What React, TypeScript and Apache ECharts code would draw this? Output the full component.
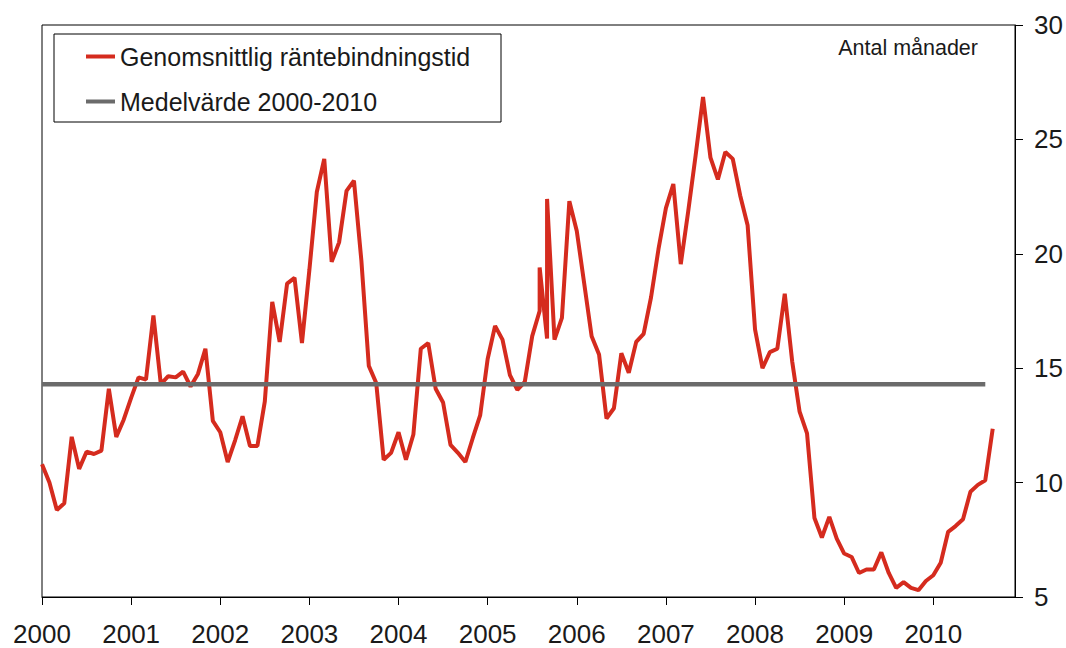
import React, { useEffect, useRef } from "react";
import * as echarts from "echarts";

const startYear = 2000;
const yearTickMonths = [0, 12, 24, 36, 48, 60, 72, 84, 96, 108, 120];
const seriesNames = ["Genomsnittlig räntebindningstid", "Medelvärde 2000-2010"];
const unitLabel = "Antal månader";

// Monthly values from Jan 2000 (month 0) to Sep 2010 (month 128)
const rateValues = [
  10.8, 10.0, 8.8, 9.1, 12.0, 10.6, 11.35, 11.25, 11.4, 14.1, 12.0, 12.75,
  13.7, 14.6, 14.5, 17.3, 14.3, 14.65, 14.6, 14.85, 14.2, 14.75, 15.85, 12.7,
  12.2, 10.9, 11.85, 12.9, 11.6, 11.6, 13.55, 17.9, 16.15, 18.7, 18.95, 16.1,
  19.3, 22.7, 24.15, 19.65, 20.5, 22.75, 23.2, 19.7, 15.1, 14.35, 11.0, 11.3,
  12.2, 11.0, 12.1, 15.85, 16.1, 14.1, 13.5, 11.65, 11.3, 10.9, 11.95, 12.95,
  15.4, 16.85, 16.25, 14.7, 14.05, 14.4, 16.4, 17.5, 16.3, 16.25, 17.2, 22.3,
  21.0, 18.7, 16.4, 15.6, 12.8, 13.25, 15.65, 14.8, 16.15, 16.5, 18.1, 20.2,
  22.0, 23.05, 19.55, 21.85, 24.3, 26.85, 24.2, 23.25, 24.45, 24.15, 22.55, 21.25,
  16.7, 15.0, 15.7, 15.85, 18.25, 15.3, 13.1, 12.15, 8.45, 7.6, 8.5, 7.55,
  6.9, 6.75, 6.05, 6.2, 6.2, 6.95, 6.05, 5.4, 5.65, 5.4, 5.3, 5.7,
  5.95, 6.5, 7.85, 8.1, 8.4, 9.6, 9.9, 10.1, 12.35,
];
// Extra readings within the same month (month index, value)
const intraMonthExtras: [number, number][] = [
  [67, 19.4],
  [68, 22.4],
];
const meanValue = 14.3;
const meanStartMonth = 0;
const meanEndMonth = 127;

const FONT = "'Liberation Sans', Arial, Helvetica, sans-serif";
const RED = "#d52b1e";
const GRAY = "#6b6b6b";
const TEXT = "#1a1a1a";

export default function App() {
  const ref = useRef<HTMLDivElement>(null);
  useEffect(() => {
    document.body.style.margin = "0";
    const chart = echarts.init(ref.current!, null, { renderer: "svg" });
    const pts: [number, number][] = [];
    rateValues.forEach((v, m) => {
      pts.push([m, v]);
      intraMonthExtras.forEach(([em, ev]) => {
        if (em === m) pts.push([m, ev]);
      });
    });
    chart.setOption({
      animation: false,
      backgroundColor: "#fff",
      grid: {
        left: 42,
        right: 51,
        top: 25,
        bottom: 51,
        show: true,
        borderColor: "#000",
        borderWidth: 1,
        backgroundColor: "transparent",
      },
      xAxis: {
        type: "value",
        min: 0,
        max: 131,
        interval: 12,
        axisLine: { show: true, onZero: false, lineStyle: { color: "#000", width: 1 } },
        axisTick: {
          show: true,
          length: 8,
          lineStyle: { color: "#000", width: 1 },
          customValues: yearTickMonths,
        },
        axisLabel: {
          customValues: yearTickMonths,
          formatter: (v: number) => String(startYear + Math.round(v / 12)),
          fontSize: 26,
          fontFamily: FONT,
          color: TEXT,
          margin: 24,
        },
        splitLine: { show: false },
      },
      yAxis: {
        type: "value",
        position: "right",
        min: 5,
        max: 30,
        interval: 5,
        axisLine: { show: true, onZero: false, lineStyle: { color: "#000", width: 1 } },
        axisTick: { show: true, length: 8, lineStyle: { color: "#000", width: 1 } },
        axisLabel: {
          fontSize: 26,
          fontFamily: FONT,
          color: TEXT,
          margin: 19,
        },
        splitLine: { show: false },
      },
      legend: {
        orient: "vertical",
        left: 86,
        top: 44,
        padding: 0,
        itemWidth: 29,
        itemHeight: 4,
        itemGap: 20,
        icon: "rect",
        textStyle: { fontSize: 25, lineHeight: 24, color: TEXT, fontFamily: FONT },
        data: seriesNames,
      },
      graphic: [
        {
          type: "rect",
          shape: { x: 54, y: 34, width: 447, height: 88 },
          style: { fill: "none", stroke: "#000", lineWidth: 1 },
          z: 10,
        },
        {
          type: "text",
          x: 978,
          y: 48,
          style: {
            text: unitLabel,
            fontSize: 21.5,
            fontFamily: FONT,
            fill: TEXT,
            align: "right",
            verticalAlign: "middle",
          },
          z: 10,
        },
      ],
      series: [
        {
          name: seriesNames[0],
          type: "line",
          data: pts,
          symbol: "none",
          showSymbol: false,
          lineStyle: { color: RED, width: 4 },
          itemStyle: { color: RED },
        },
        {
          name: seriesNames[1],
          type: "line",
          data: [
            [meanStartMonth, meanValue],
            [meanEndMonth, meanValue],
          ],
          symbol: "none",
          showSymbol: false,
          lineStyle: { color: GRAY, width: 4.5 },
          itemStyle: { color: GRAY },
        },
      ],
    });
    return () => chart.dispose();
  }, []);
  return (
    <div
      ref={ref}
      style={{ position: "absolute", left: 0, top: 0, width: 1066, height: 648 }}
    />
  );
}
